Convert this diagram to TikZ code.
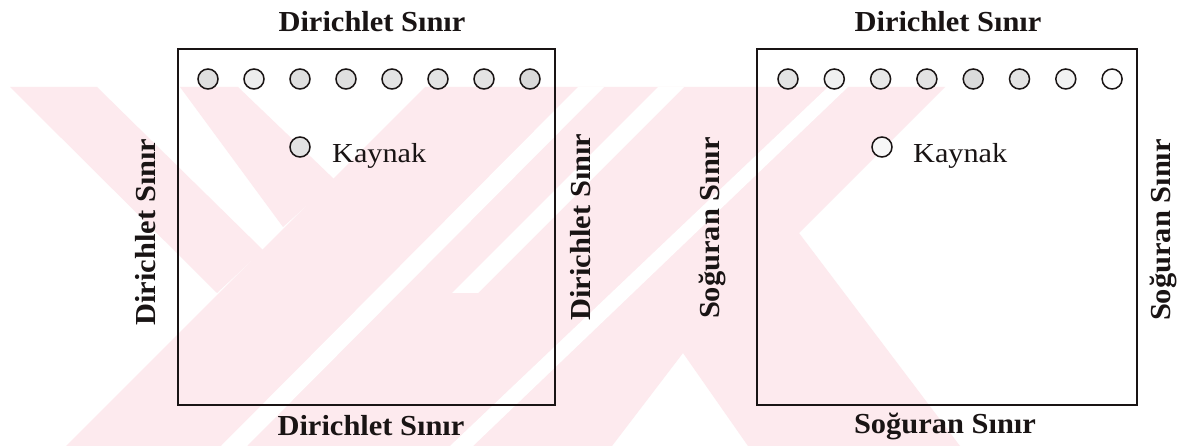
\documentclass[tikz,border=0pt]{standalone}
\usepackage{fontspec}
\setmainfont{Liberation Serif}
\newfontfamily\lblfont[FakeStretch=1.05]{Liberation Serif}
\newfontfamily\kayfont[FakeStretch=1.1]{Liberation Serif}
\definecolor{wm}{RGB}{253,234,238}
\definecolor{ink}{RGB}{25,20,20}
\begin{document}
\begin{tikzpicture}[x=1pt,y=-1pt,
  boxst/.style={draw=ink,line width=1.2pt,inner sep=0pt},
  hole/.style={circle,draw=ink,line width=1.5pt,minimum size=20pt,inner sep=0pt},
  lbl/.style={font=\lblfont\bfseries\fontsize{29}{30}\selectfont,text=ink,inner sep=0pt},
  vlbl/.style={lbl,rotate=90},
  kay/.style={font=\kayfont\fontsize{27.5}{28}\selectfont,text=ink,anchor=base west,inner sep=0pt},
  wmark/.style={fill=wm,draw=none},
  wgap/.style={fill=white,draw=none}]
\useasboundingbox (0,0) rectangle (1186,446);
\fill[white] (0,0) rectangle (1186,446);
% watermark (approximate)
\begin{scope}
\clip (0,87) rectangle (1186,446);
\fill[wmark] (10,87) -- (97,87) -- (263,250) -- (217,293) -- cycle;
\fill[wmark] (180,87) -- (238,87) -- (335,180) -- (283,227) -- cycle;
\fill[wmark] (425,87) -- (945,87) -- (799,233) -- (960,446) -- (748,446)
  -- (683,353) -- (612,446) -- (66,446) -- cycle;
\fill[wgap] (578,87) -- (604,87) -- (247,446) -- (221,446) -- cycle;
\fill[wgap] (658,87) -- (684,87) -- (478,293) -- (452,293) -- (465,280) -- cycle;
\fill[wgap] (828,87) -- (848,87) -- (473,446) -- (450,446) -- cycle;
\end{scope}
% boxes
\node[boxst,minimum width=377pt,minimum height=356pt] (boxL) at (366.5,227) {};
\node[boxst,minimum width=380pt,minimum height=356pt] (boxR) at (947,227) {};
% holes
\foreach \i/\g in {0/25,1/14,2/25,3/25,4/22,5/22,6/22,7/30}
  \node[hole,fill=gray!\g] (l\i) at ({208+46*\i},79) {};
\foreach \i/\g in {0/22,1/12,2/18,3/22,4/28,5/22,6/10,7/2}
  \node[hole,fill=gray!\g] (r\i) at ({788+46.3*\i},79) {};
% sources
\node[hole,fill=gray!22] (srcL) at (300,147) {};
\node[hole,fill=gray!6] (srcR) at (882,147) {};
\node[kay] (kL) at (332,163) {Kaynak};
\node[kay] (kR) at (913,163) {Kaynak};
% labels
\node[lbl] (tL) at (372,22) {Dirichlet Sınır};
\node[lbl] (bL) at (371,426) {Dirichlet Sınır};
\node[lbl] (tR) at (948,22) {Dirichlet Sınır};
\node[lbl] (bR) at (945,426) {Soğuran Sınır};
\node[vlbl] (lL) at (146,232) {Dirichlet Sınır};
\node[vlbl] (rL) at (581,227) {Dirichlet Sınır};
\node[vlbl] (lR) at (712,228) {Soğuran Sınır};
\node[vlbl] (rR) at (1163,230) {Soğuran Sınır};
\end{tikzpicture}
\end{document}
